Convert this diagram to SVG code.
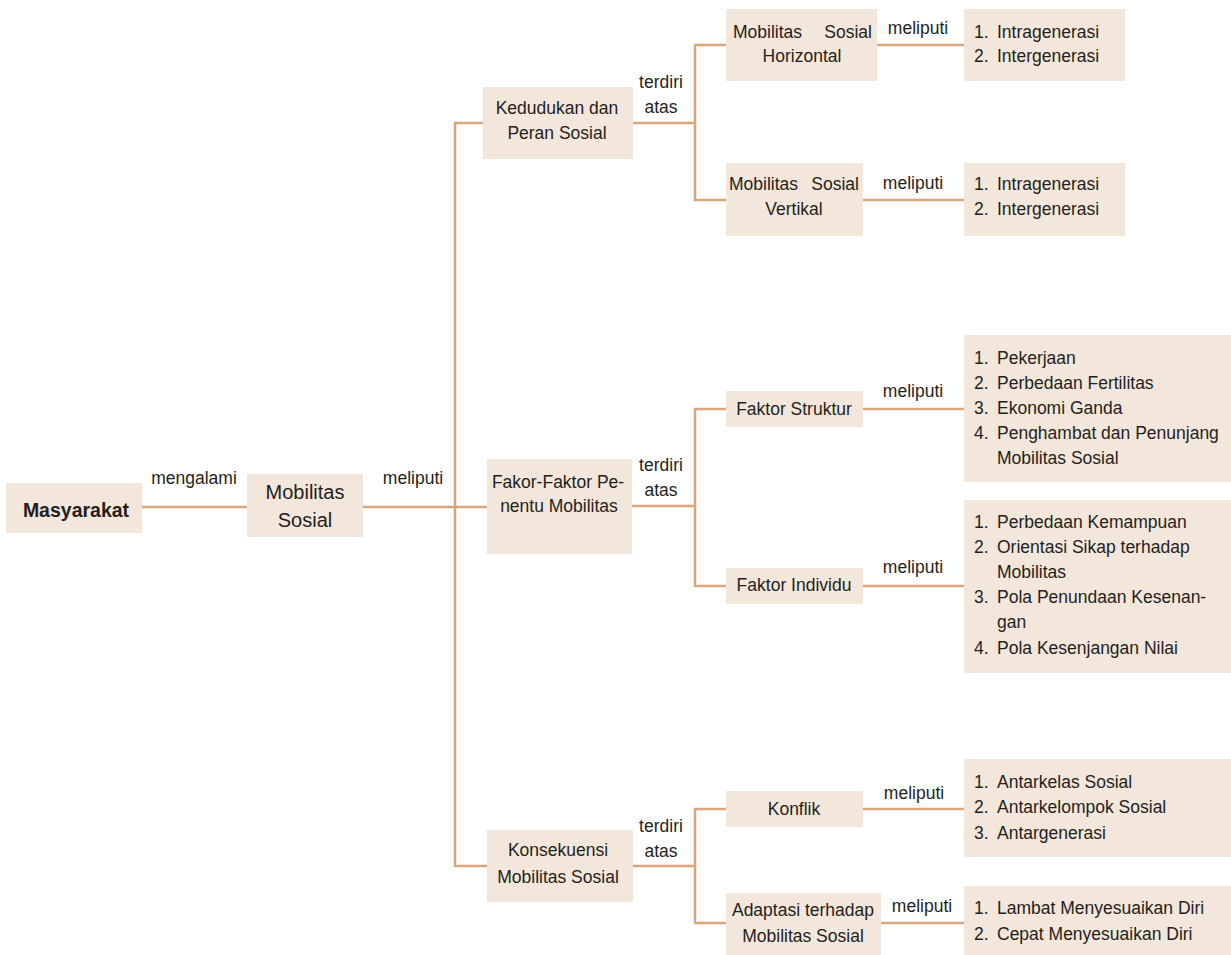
<svg xmlns="http://www.w3.org/2000/svg" width="1231" height="955" viewBox="0 0 1231 955">
<style>
.box{fill:#f3e6db}
.ln{stroke:#d9a57b;stroke-width:2.5;fill:none}
text{font-family:"Liberation Sans",Arial,sans-serif;font-size:17.5px;fill:#231f20}
.c{text-anchor:middle}
.e{text-anchor:end}
.b{font-weight:bold;font-size:19.5px}
.m{font-size:20px}
</style>
<rect width="1231" height="955" fill="#ffffff"/>
<g id="connectors">
<path class="ln" d="M142 507H247"/>
<path class="ln" d="M363 507H487"/>
<path class="ln" d="M483 123H455V866H487"/>
<path class="ln" d="M633 123H695"/>
<path class="ln" d="M726 45H695V200H726"/>
<path class="ln" d="M877 45H964"/>
<path class="ln" d="M863 200H964"/>
<path class="ln" d="M632 506H695"/>
<path class="ln" d="M726 409H695V586H726"/>
<path class="ln" d="M863 409H964"/>
<path class="ln" d="M863 586H964"/>
<path class="ln" d="M633 866H695"/>
<path class="ln" d="M726 809H695V923H726"/>
<path class="ln" d="M863 809H964"/>
<path class="ln" d="M881 923H964"/>
</g>
<g id="edge-labels">
<text class="c" x="194" y="484">mengalami</text>
<text class="c" x="413" y="484">meliputi</text>
<text class="c" x="661" y="88">terdiri</text>
<text class="c" x="661" y="113">atas</text>
<text class="c" x="661" y="471">terdiri</text>
<text class="c" x="661" y="496">atas</text>
<text class="c" x="661" y="832">terdiri</text>
<text class="c" x="661" y="857">atas</text>
<text class="c" x="918" y="34">meliputi</text>
<text class="c" x="913" y="189">meliputi</text>
<text class="c" x="913" y="397">meliputi</text>
<text class="c" x="913" y="573">meliputi</text>
<text class="c" x="914" y="799">meliputi</text>
<text class="c" x="922" y="912">meliputi</text>
</g>
<g id="masyarakat">
<rect class="box" x="6" y="483" width="136" height="50"/>
<text class="c b" x="76" y="517">Masyarakat</text>
</g>
<g id="mobilitas-sosial">
<rect class="box" x="247" y="474" width="116" height="63"/>
<text class="c m" x="305" y="499">Mobilitas</text>
<text class="c m" x="305" y="527">Sosial</text>
</g>
<g id="kedudukan">
<rect class="box" x="483" y="87" width="150" height="72"/>
<text class="c" x="557" y="114">Kedudukan dan</text>
<text class="c" x="557" y="139">Peran Sosial</text>
</g>
<g id="horizontal">
<rect class="box" x="726" y="9" width="151" height="72"/>
<text x="733" y="38">Mobilitas</text>
<text class="e" x="872" y="38">Sosial</text>
<text class="c" x="802" y="62">Horizontal</text>
</g>
<g id="vertikal">
<rect class="box" x="726" y="163" width="137" height="73"/>
<text x="729" y="190">Mobilitas</text>
<text class="e" x="859" y="190">Sosial</text>
<text class="c" x="794" y="215">Vertikal</text>
</g>
<g id="list-horizontal">
<rect class="box" x="964" y="9" width="161" height="72"/>
<text x="974" y="38">1.<tspan x="997">Intragenerasi</tspan></text>
<text x="974" y="62">2.<tspan x="997">Intergenerasi</tspan></text>
</g>
<g id="list-vertikal">
<rect class="box" x="964" y="163" width="161" height="73"/>
<text x="974" y="190">1.<tspan x="997">Intragenerasi</tspan></text>
<text x="974" y="215">2.<tspan x="997">Intergenerasi</tspan></text>
</g>
<g id="faktor-penentu">
<rect class="box" x="487" y="459" width="145" height="95"/>
<text class="c" x="558" y="488">Fakor-Faktor Pe-</text>
<text class="c" x="559" y="512">nentu Mobilitas</text>
</g>
<g id="faktor-struktur">
<rect class="box" x="726" y="391" width="137" height="36"/>
<text class="c" x="794" y="415">Faktor Struktur</text>
</g>
<g id="faktor-individu">
<rect class="box" x="726" y="568" width="137" height="36"/>
<text class="c" x="794" y="591">Faktor Individu</text>
</g>
<g id="list-struktur">
<rect class="box" x="964" y="335" width="267" height="147"/>
<text x="974" y="364">1.<tspan x="997">Pekerjaan</tspan></text>
<text x="974" y="389">2.<tspan x="997">Perbedaan Fertilitas</tspan></text>
<text x="974" y="414">3.<tspan x="997">Ekonomi Ganda</tspan></text>
<text x="974" y="439">4.<tspan x="997">Penghambat dan Penunjang</tspan></text>
<text x="997" y="464">Mobilitas Sosial</text>
</g>
<g id="list-individu">
<rect class="box" x="964" y="500" width="267" height="173"/>
<text x="974" y="528">1.<tspan x="997">Perbedaan Kemampuan</tspan></text>
<text x="974" y="553">2.<tspan x="997">Orientasi Sikap terhadap</tspan></text>
<text x="997" y="578">Mobilitas</text>
<text x="974" y="603">3.<tspan x="997">Pola Penundaan Kesenan-</tspan></text>
<text x="997" y="628">gan</text>
<text x="974" y="654">4.<tspan x="997">Pola Kesenjangan Nilai</tspan></text>
</g>
<g id="konsekuensi">
<rect class="box" x="487" y="830" width="146" height="72"/>
<text class="c" x="558" y="856">Konsekuensi</text>
<text class="c" x="558" y="883">Mobilitas Sosial</text>
</g>
<g id="konflik">
<rect class="box" x="726" y="791" width="137" height="36"/>
<text class="c" x="794" y="815">Konflik</text>
</g>
<g id="adaptasi">
<rect class="box" x="726" y="893" width="155" height="62"/>
<text class="c" x="803" y="916">Adaptasi terhadap</text>
<text class="c" x="803" y="942">Mobilitas Sosial</text>
</g>
<g id="list-konflik">
<rect class="box" x="964" y="759" width="267" height="98"/>
<text x="974" y="788">1.<tspan x="997">Antarkelas Sosial</tspan></text>
<text x="974" y="813">2.<tspan x="997">Antarkelompok Sosial</tspan></text>
<text x="974" y="839">3.<tspan x="997">Antargenerasi</tspan></text>
</g>
<g id="list-adaptasi">
<rect class="box" x="964" y="886" width="267" height="69"/>
<text x="974" y="914">1.<tspan x="997">Lambat Menyesuaikan Diri</tspan></text>
<text x="974" y="940">2.<tspan x="997">Cepat Menyesuaikan Diri</tspan></text>
</g>
</svg>
